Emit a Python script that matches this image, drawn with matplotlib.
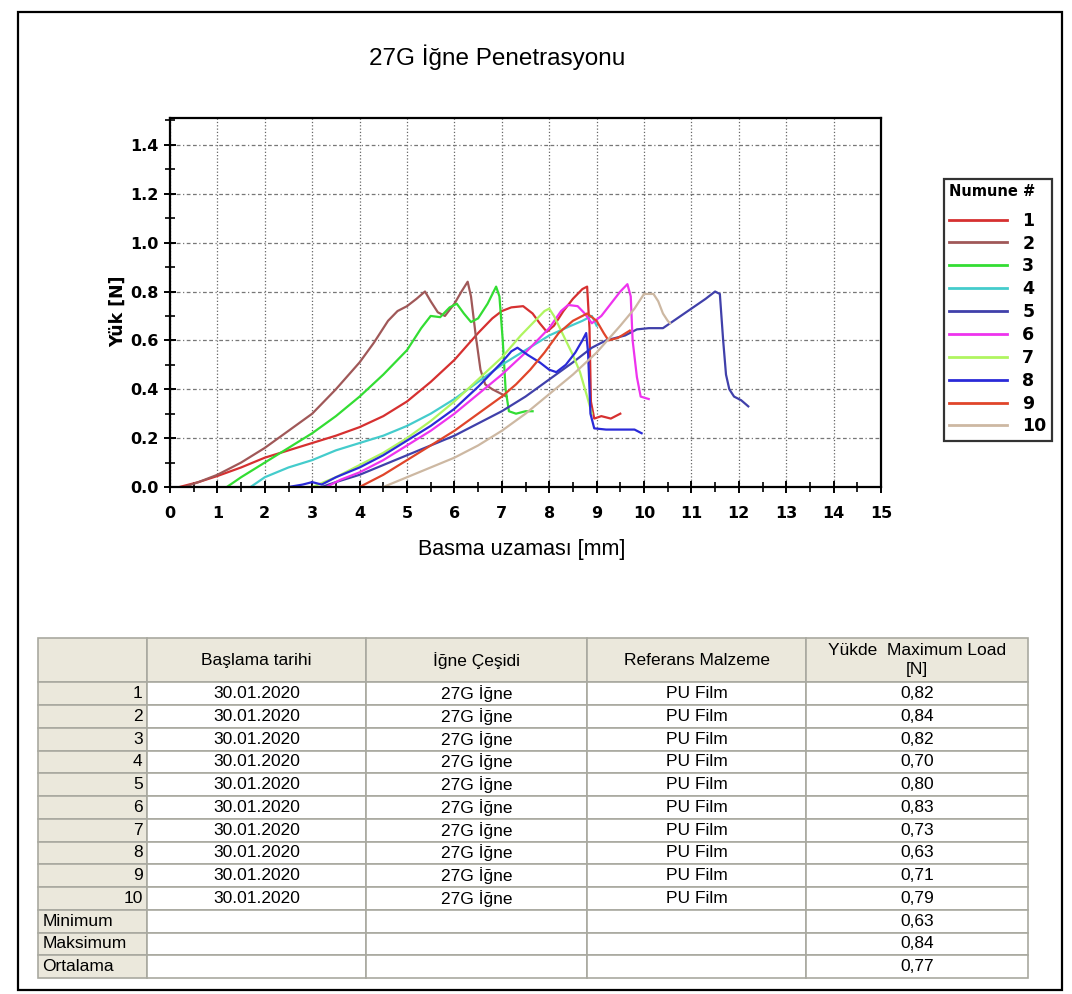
import matplotlib
matplotlib.use('Agg')
import matplotlib.pyplot as plt
from matplotlib.ticker import MultipleLocator
from matplotlib.patches import Rectangle

plt.rcParams['font.family'] = ['Liberation Sans', 'DejaVu Sans']

# load-displacement curves, one pair of lists per sample (x: mm, y: N)
s1_x = [0.2, 0.6, 1.0, 1.5, 2.0, 2.5, 3.0, 3.5, 4.0, 4.5, 5.0, 5.5, 6.0, 6.5, 6.8, 7.0,
        7.2, 7.45, 7.65, 7.8, 7.95, 8.1, 8.3, 8.5, 8.7, 8.8, 8.85, 8.88, 8.95, 9.1, 9.3, 9.5]
s1_y = [0.0, 0.02, 0.045, 0.08, 0.12, 0.15, 0.18, 0.21, 0.245, 0.29, 0.35, 0.43, 0.52, 0.63,
        0.69, 0.72, 0.735, 0.74, 0.71, 0.67, 0.635, 0.66, 0.72, 0.77, 0.81, 0.82, 0.65, 0.35,
        0.28, 0.29, 0.28, 0.30]

s2_x = [0.3, 0.6, 1.0, 1.5, 2.0, 2.5, 3.0, 3.5, 4.0, 4.3, 4.6, 4.8, 5.0, 5.2, 5.38, 5.5,
        5.65, 5.8, 6.0, 6.15, 6.28, 6.35, 6.45, 6.55, 6.65, 6.8, 7.0, 7.1]
s2_y = [0.0, 0.02, 0.05, 0.10, 0.16, 0.23, 0.30, 0.40, 0.51, 0.59, 0.68, 0.72, 0.74, 0.77,
        0.80, 0.76, 0.715, 0.70, 0.75, 0.80, 0.84, 0.78, 0.62, 0.48, 0.42, 0.40, 0.38, 0.37]

s3_x = [1.2, 1.5, 2.0, 2.5, 3.0, 3.5, 4.0, 4.5, 5.0, 5.3, 5.5, 5.7, 5.9, 6.05, 6.2, 6.35,
        6.5, 6.7, 6.88, 6.95, 7.02, 7.08, 7.15, 7.3, 7.5, 7.65]
s3_y = [0.0, 0.04, 0.10, 0.16, 0.22, 0.29, 0.37, 0.46, 0.56, 0.65, 0.70, 0.695, 0.735, 0.75,
        0.71, 0.675, 0.69, 0.75, 0.82, 0.78, 0.60, 0.40, 0.31, 0.30, 0.31, 0.31]

s4_x = [1.7, 2.0, 2.5, 3.0, 3.5, 4.0, 4.5, 5.0, 5.5, 6.0, 6.5, 7.0, 7.5, 8.0, 8.4, 8.7, 8.9, 9.0]
s4_y = [0.0, 0.04, 0.08, 0.11, 0.15, 0.18, 0.21, 0.25, 0.30, 0.36, 0.43, 0.50, 0.56, 0.62,
        0.655, 0.68, 0.70, 0.66]

s5_x = [3.2, 3.5, 4.0, 4.5, 5.0, 5.5, 6.0, 6.5, 7.0, 7.5, 8.0, 8.5, 8.9, 9.2, 9.6, 9.85,
        10.1, 10.4, 10.7, 11.0, 11.3, 11.5, 11.6, 11.67, 11.73, 11.8, 11.9, 12.05, 12.2]
s5_y = [0.0, 0.02, 0.05, 0.09, 0.13, 0.17, 0.21, 0.26, 0.31, 0.37, 0.44, 0.51, 0.57, 0.60,
        0.62, 0.645, 0.65, 0.65, 0.69, 0.73, 0.77, 0.80, 0.79, 0.60, 0.46, 0.40, 0.37, 0.355, 0.33]

s6_x = [3.3, 3.6, 4.0, 4.5, 5.0, 5.5, 6.0, 6.5, 7.0, 7.5, 8.0, 8.25, 8.4, 8.6, 8.75, 8.9,
        9.1, 9.3, 9.5, 9.65, 9.72, 9.76, 9.85, 9.93, 10.1]
s6_y = [0.0, 0.03, 0.06, 0.11, 0.17, 0.23, 0.30, 0.38, 0.46, 0.55, 0.65, 0.72, 0.745, 0.74,
        0.71, 0.67, 0.70, 0.75, 0.80, 0.83, 0.78, 0.60, 0.45, 0.37, 0.36]

s7_x = [3.0, 3.5, 4.0, 4.5, 5.0, 5.5, 6.0, 6.5, 7.0, 7.4, 7.7, 7.9, 8.0, 8.1, 8.3, 8.5,
        8.65, 8.8, 8.9]
s7_y = [0.0, 0.04, 0.09, 0.14, 0.20, 0.27, 0.35, 0.44, 0.53, 0.62, 0.68, 0.72, 0.73, 0.70,
        0.62, 0.54, 0.47, 0.37, 0.30]

s8_x = [2.5, 2.8, 3.0, 3.2, 3.5, 4.0, 4.5, 5.0, 5.5, 6.0, 6.5, 6.8, 7.0, 7.2, 7.33, 7.55,
        7.8, 8.0, 8.15, 8.35, 8.55, 8.7, 8.78, 8.82, 8.87, 8.95, 9.2, 9.5, 9.8, 9.95]
s8_y = [0.0, 0.01, 0.02, 0.01, 0.04, 0.08, 0.13, 0.19, 0.25, 0.32, 0.41, 0.47, 0.51, 0.555,
        0.57, 0.54, 0.51, 0.48, 0.47, 0.50, 0.55, 0.60, 0.63, 0.55, 0.30, 0.24, 0.235, 0.235,
        0.235, 0.22]

s9_x = [4.0, 4.5, 5.0, 5.5, 6.0, 6.5, 7.0, 7.3, 7.6, 7.9, 8.2, 8.5, 8.8, 9.0, 9.15, 9.25,
        9.45, 9.7]
s9_y = [0.0, 0.05, 0.11, 0.17, 0.23, 0.30, 0.37, 0.42, 0.48, 0.55, 0.63, 0.68, 0.71, 0.68,
        0.63, 0.60, 0.61, 0.64]

s10_x = [4.5, 5.0, 5.5, 6.0, 6.5, 7.0, 7.5, 8.0, 8.5, 9.0, 9.5, 9.8, 10.0, 10.2, 10.3, 10.4,
         10.5, 10.55]
s10_y = [0.0, 0.04, 0.08, 0.12, 0.17, 0.23, 0.30, 0.38, 0.46, 0.55, 0.66, 0.73, 0.79, 0.79,
         0.76, 0.71, 0.68, 0.67]

sample_ids = ['1', '2', '3', '4', '5', '6', '7', '8', '9', '10']
max_load = [0.82, 0.84, 0.82, 0.70, 0.80, 0.83, 0.73, 0.63, 0.71, 0.79]
test_date = '30.01.2020'
needle = '27G İğne'
reference = 'PU Film'
col_labels = ['', 'Başlama tarihi', 'İğne Çeşidi', 'Referans Malzeme', 'Yükde  Maximum Load\n[N]']
stat_labels = ['Minimum', 'Maksimum', 'Ortalama']

colors = ['#d63030', '#a05858', '#33dd33', '#44cccc', '#4040aa',
          '#ee33ee', '#b0f560', '#2a2ad8', '#e0452a', '#cdb8a2']

curves = [(s1_x, s1_y), (s2_x, s2_y), (s3_x, s3_y), (s4_x, s4_y), (s5_x, s5_y),
          (s6_x, s6_y), (s7_x, s7_y), (s8_x, s8_y), (s9_x, s9_y), (s10_x, s10_y)]

W, H = 1072, 994
fig = plt.figure(figsize=(W / 100, H / 100), dpi=100)

ax = fig.add_axes([170 / W, 1 - 487 / H, 711 / W, 369 / H])
for (xs, ys), c, lab in zip(curves, colors, sample_ids):
    ax.plot(xs, ys, color=c, lw=1.6, label=lab)

ax.set_xlim(0, 15)
ax.set_ylim(0, 1.51)
ax.xaxis.set_major_locator(MultipleLocator(1))
ax.xaxis.set_minor_locator(MultipleLocator(0.5))
ax.yaxis.set_minor_locator(MultipleLocator(0.1))
ax.set_yticks([0, 0.2, 0.4, 0.6, 0.8, 1.0, 1.2, 1.4])
ax.yaxis.set_major_formatter(lambda v, p: f'{v:.1f}')
ax.tick_params(which='major', direction='inout', length=9, width=1.4, color='black')
ax.tick_params(which='minor', direction='inout', length=7, width=1.2, color='black')
ax.tick_params(axis='x', pad=9)
ax.tick_params(labelsize=11.5)
for lbl in ax.get_xticklabels() + ax.get_yticklabels():
    lbl.set_fontfamily('DejaVu Sans')
    lbl.set_fontweight('bold')
for sp in ax.spines.values():
    sp.set_linewidth(1.6)
ax.grid(True, axis='x', which='major', linestyle=':', color='#666666', lw=0.9)
ax.grid(True, axis='y', which='major', linestyle=(0, (3, 2, 3, 2, 1, 2)), color='#777777', lw=0.9)

fig.text(497 / W, 1 - 57 / H, '27G İğne Penetrasyonu', ha='center', va='center', fontsize=17.5)
fig.text(522 / W, 1 - 550 / H, 'Basma uzaması [mm]', ha='center', va='center', fontsize=15.5)
fig.text(118 / W, 1 - 311 / H, 'Yük [N]', ha='center', va='center', rotation=90,
         fontsize=12.5, fontweight='bold', family='DejaVu Sans')

leg = fig.legend(loc='upper left', bbox_to_anchor=(944 / W, 1 - 179 / H), borderaxespad=0,
                 title='Numune #', alignment='left', frameon=True, fancybox=False,
                 handlelength=3.3, handletextpad=0.9, labelspacing=0.28, borderpad=0.3,
                 prop={'family': 'DejaVu Sans', 'weight': 'bold', 'size': 12.5},
                 title_fontproperties={'family': 'DejaVu Sans', 'weight': 'bold', 'size': 10.5})
leg._legend_box.sep = 9
leg.get_frame().set_edgecolor('black')
leg.get_frame().set_linewidth(1.6)
for h in leg.get_lines():
    h.set_linewidth(2)

# results table
rows = []
for sid, val in zip(sample_ids, max_load):
    rows.append([sid, test_date, needle, reference, f'{val:.2f}'.replace('.', ',')])
stats = [min(max_load), max(max_load), sum(max_load) / len(max_load)]
for lab, val in zip(stat_labels, stats):
    rows.append([lab, '', '', '', f'{val:.2f}'.replace('.', ',')])

tax = fig.add_axes([38 / W, 1 - 978 / H, 990 / W, 340 / H])
tax.axis('off')
widths = [109, 219, 221, 219, 222]
tbl = tax.table(cellText=rows, colLabels=col_labels, cellLoc='center',
                colWidths=[w / sum(widths) for w in widths], bbox=[0, 0, 1, 1])
tbl.auto_set_font_size(False)
tbl.set_fontsize(12.5)
beige = '#ebe8dc'
for (r, c), cell in tbl.get_celld().items():
    cell.set_edgecolor('#a9a9a0')
    cell.set_linewidth(1.2)
    if r == 0:
        cell.set_height(cell.get_height() * 1.95)
        cell.set_facecolor(beige)
        cell.get_text().set_linespacing(1.3)
    elif c == 0:
        cell.set_facecolor(beige)
        cell.PAD = 0.04
        cell.get_text().set_ha('right' if r <= len(sample_ids) else 'left')
    else:
        cell.set_facecolor('white')

# outer frame around the page
fig.patches.append(Rectangle((18 / W, 1 - 990 / H), 1044 / W, 978 / H, transform=fig.transFigure,
                             fill=False, edgecolor='black', lw=1.6))

fig.savefig('out.png', dpi=100)
